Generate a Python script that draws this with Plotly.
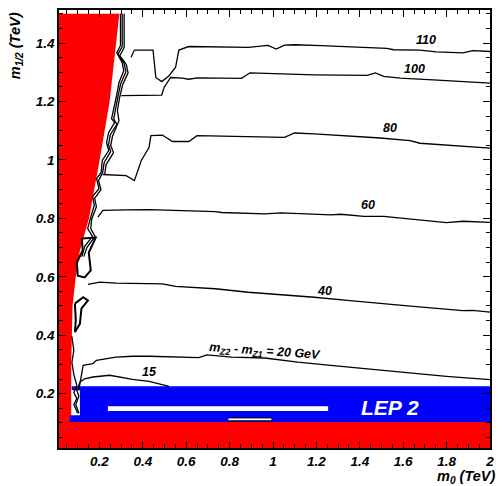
import plotly.graph_objects as go

# ---------------- data (TeV) ----------------
# excluded (red) region boundary on the left
red_edge_x = [0.0, 0.0, 0.292, 0.277, 0.247, 0.201, 0.152, 0.110, 0.091, 0.076, 0.072, 0.070, 0.070, 0.0]
red_edge_y = [0.0, 1.5, 1.5, 1.4, 1.2, 1.0, 0.8, 0.69, 0.6, 0.5, 0.4, 0.3, 0.0, 0.0]
# bottom red band
red_bot_x = [0.0, 2.0, 2.0, 0.0]
red_bot_y = [0.0, 0.0, 0.103, 0.103]
# LEP 2 (blue) band
blue_x = [0.072, 2.0, 2.0, 0.064, 0.064, 0.110, 0.110, 0.072]
blue_y = [0.225, 0.225, 0.103, 0.103, 0.126, 0.126, 0.212, 0.212]
# white bars inside the band
wbar1_x = [0.239, 1.254, 1.254, 0.239]
wbar1_y = [0.141, 0.141, 0.157, 0.157]
wbar2_x = [0.795, 0.995, 0.995, 0.795]
wbar2_y = [0.107, 0.107, 0.117, 0.117]

# contours of m_Z2 - m_Z1 (GeV)
c110_x = [0.346, 0.361, 0.447, 0.460, 0.487, 0.521, 0.551, 0.566, 0.612, 0.886, 0.977, 1.015, 1.053, 1.099, 1.221, 1.525, 1.556, 1.677, 1.753, 1.875, 1.921, 2.0]
c110_y = [1.351, 1.376, 1.376, 1.282, 1.268, 1.288, 1.317, 1.376, 1.388, 1.385, 1.392, 1.379, 1.393, 1.394, 1.391, 1.382, 1.377, 1.376, 1.370, 1.366, 1.374, 1.371]
c100_x = [0.301, 0.429, 0.487, 0.498, 0.528, 0.581, 0.612, 0.650, 0.855, 0.894, 1.190, 1.434, 1.472, 1.510, 1.586, 1.738, 2.0]
c100_y = [1.220, 1.222, 1.222, 1.248, 1.282, 1.280, 1.276, 1.281, 1.279, 1.298, 1.291, 1.289, 1.298, 1.286, 1.280, 1.274, 1.263]
c80_x = [0.215, 0.323, 0.361, 0.393, 0.429, 0.437, 0.490, 0.536, 0.612, 0.650, 1.053, 1.099, 1.190, 1.495, 1.632, 1.677, 2.0]
c80_y = [0.950, 0.946, 0.929, 0.998, 1.043, 1.083, 1.085, 1.063, 1.063, 1.083, 1.077, 1.092, 1.089, 1.075, 1.066, 1.057, 1.040]
c60_x = [0.193, 0.216, 0.323, 0.429, 0.734, 0.764, 0.962, 1.038, 1.266, 1.312, 1.419, 1.510, 1.799, 1.875, 2.0]
c60_y = [0.804, 0.827, 0.829, 0.830, 0.823, 0.820, 0.815, 0.819, 0.812, 0.814, 0.807, 0.807, 0.785, 0.790, 0.786]
c40_x = [0.147, 0.201, 0.277, 0.429, 0.490, 0.551, 0.734, 0.886, 1.038, 1.190, 1.342, 1.495, 1.647, 1.875, 1.921, 2.0]
c40_y = [0.574, 0.582, 0.578, 0.576, 0.576, 0.567, 0.559, 0.547, 0.539, 0.530, 0.519, 0.510, 0.499, 0.484, 0.485, 0.479]
c20_x = [0.105, 0.114, 0.125, 0.170, 0.186, 0.277, 0.353, 0.429, 0.658, 0.695, 0.810, 0.962, 1.114, 1.266, 1.495, 1.647, 1.799, 2.0]
c20_y = [0.212, 0.257, 0.297, 0.303, 0.314, 0.325, 0.328, 0.328, 0.323, 0.333, 0.325, 0.322, 0.308, 0.297, 0.280, 0.268, 0.259, 0.248]
c15_x = [0.100, 0.110, 0.132, 0.170, 0.247, 0.353, 0.429, 0.521]
c15_y = [0.218, 0.239, 0.251, 0.257, 0.263, 0.249, 0.242, 0.225]

# bunched contours hugging the excluded region
e1_x = [0.297, 0.297, 0.280, 0.305, 0.312, 0.290, 0.279, 0.265, 0.256, 0.270, 0.242, 0.233, 0.243, 0.213, 0.208, 0.187, 0.198, 0.169, 0.176, 0.158, 0.146, 0.168, 0.132, 0.119]
e1_y = [1.500, 1.391, 1.367, 1.333, 1.305, 1.264, 1.220, 1.175, 1.141, 1.128, 1.093, 1.059, 1.032, 0.998, 0.957, 0.936, 0.902, 0.875, 0.844, 0.799, 0.765, 0.738, 0.704, 0.669]
e2_x = [0.305, 0.305, 0.286, 0.314, 0.322, 0.298, 0.285, 0.273, 0.266, 0.280, 0.250, 0.242, 0.252, 0.222, 0.215, 0.196, 0.207, 0.178, 0.186, 0.164, 0.160, 0.180, 0.142, 0.128]
e2_y = [1.500, 1.387, 1.363, 1.329, 1.302, 1.261, 1.216, 1.169, 1.141, 1.121, 1.086, 1.052, 1.028, 0.991, 0.957, 0.929, 0.898, 0.868, 0.840, 0.796, 0.765, 0.738, 0.700, 0.669]
e3_x = [0.314, 0.314, 0.294, 0.324, 0.332, 0.307, 0.292, 0.283, 0.290, 0.260, 0.252, 0.265, 0.231, 0.224]
e3_y = [1.500, 1.384, 1.357, 1.326, 1.298, 1.257, 1.210, 1.169, 1.134, 1.080, 1.049, 1.025, 0.984, 0.950]
loopA_x = [0.119, 0.183, 0.151, 0.160, 0.132, 0.100, 0.096, 0.123, 0.119]
loopA_y = [0.731, 0.734, 0.683, 0.622, 0.598, 0.604, 0.649, 0.690, 0.731]
loopB_x = [0.087, 0.125, 0.147, 0.117, 0.110, 0.087, 0.091, 0.087]
loopB_y = [0.508, 0.530, 0.519, 0.491, 0.439, 0.411, 0.451, 0.508]
eC_x = [0.073, 0.082, 0.073, 0.082, 0.096, 0.082, 0.096, 0.082, 0.100]
eC_y = [0.396, 0.348, 0.307, 0.266, 0.228, 0.204, 0.184, 0.163, 0.133]
eD_x = [0.091, 0.105, 0.091, 0.105]
eD_y = [0.222, 0.191, 0.163, 0.133]

contour_labels = ["110", "100", "80", "60", "40", "15"]
label_x = [1.703, 1.653, 1.539, 1.438, 1.237, 0.432]
label_y = [1.411, 1.312, 1.110, 0.844, 0.551, 0.274]

FONT = "Liberation Sans, Arial, sans-serif"

fig = go.Figure()

def poly(x, y, fill, line_color=None, lw=0):
    fig.add_trace(go.Scatter(
        x=x, y=y, fill="toself", fillcolor=fill, mode="lines",
        line=dict(color=line_color or fill, width=lw), hoverinfo="skip", showlegend=False))

poly(red_edge_x, red_edge_y, "#ff0000")
poly(red_bot_x, red_bot_y, "#ff0000")
poly(blue_x, blue_y, "#0000ff")
poly(wbar1_x, wbar1_y, "#ffffff")
poly(wbar2_x, wbar2_y, "#ffffff", "#000000", 1)

def line(x, y, w=1.3):
    fig.add_trace(go.Scatter(x=x, y=y, mode="lines", line=dict(color="black", width=w),
                             hoverinfo="skip", showlegend=False))

for cx, cy in [(c110_x, c110_y), (c100_x, c100_y), (c80_x, c80_y), (c60_x, c60_y),
               (c40_x, c40_y), (c20_x, c20_y), (c15_x, c15_y),
               (e1_x, e1_y), (e2_x, e2_y), (e3_x, e3_y), (eC_x, eC_y), (eD_x, eD_y)]:
    line(cx, cy)
line(loopA_x, loopA_y, 2)
line(loopB_x, loopB_y, 2)

for t, lx, ly in zip(contour_labels, label_x, label_y):
    fig.add_annotation(x=lx, y=ly, text=t, showarrow=False,
                       font=dict(family=FONT, size=12.5, color="black", weight="bold", style="italic"))

fig.add_annotation(x=0.963, y=0.342, text="m<sub>Z2</sub> - m<sub>Z1</sub> = 20 GeV", showarrow=False,
                   textangle=4,
                   font=dict(family=FONT, size=12.5, color="black", weight="bold", style="italic"))
fig.add_annotation(x=1.539, y=0.153, text="LEP 2", showarrow=False,
                   font=dict(family=FONT, size=21, color="white", weight="bold", style="italic"))

fig.add_annotation(xref="paper", yref="paper", x=-0.099, y=0.918, text="m<sub>1/2</sub> (TeV)",
                   showarrow=False, textangle=-90, xanchor="center", yanchor="middle",
                   font=dict(family=FONT, size=14.5, color="black", weight="bold", style="italic"))
fig.add_annotation(xref="paper", yref="paper", x=1.016, y=-0.066, text="m<sub>0</sub> (TeV)",
                   showarrow=False, xanchor="right", yanchor="middle",
                   font=dict(family=FONT, size=14.5, color="black", weight="bold", style="italic"))

axis_common = dict(
    showgrid=False, zeroline=False, showline=True, linecolor="black", linewidth=1.5,
    mirror="ticks", ticks="inside", ticklen=7, tickwidth=1.3, tickcolor="black",
    tick0=0, dtick=0.2,
    minor=dict(ticks="inside", ticklen=4, tickwidth=1, tickcolor="black", dtick=0.05, tick0=0, showgrid=False),
    tickfont=dict(family=FONT, size=13.5, color="black", weight="bold", style="italic"),
)

fig.update_layout(
    width=502, height=486,
    margin=dict(l=59, r=8, t=9, b=38),
    paper_bgcolor="white", plot_bgcolor="white",
    xaxis=dict(range=[0.0137, 2.0], **axis_common),
    yaxis=dict(range=[0.014, 1.513], **axis_common),
)

fig.write_html("out.html")
